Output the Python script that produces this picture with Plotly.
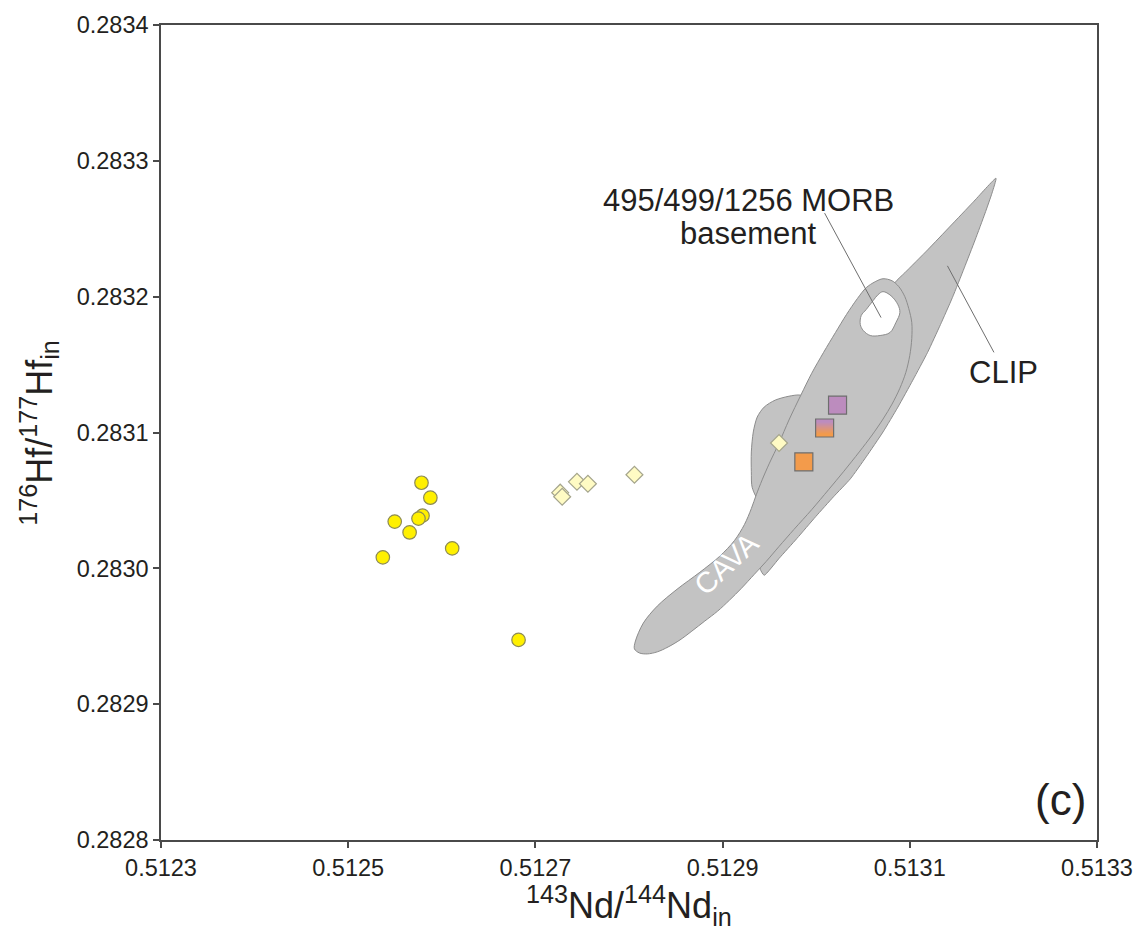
import plotly.graph_objects as go

# ---- Sample compositions: 143Nd/144Nd(in) vs 176Hf/177Hf(in) ----
circ_nd = [0.5125783, 0.5125878, 0.5125497, 0.5125794, 0.5125751, 0.5125656, 0.5126111, 0.5125370, 0.5126820]
circ_hf = [0.2830630, 0.2830520, 0.2830344, 0.2830388, 0.2830366, 0.2830264, 0.2830147, 0.2830081, 0.2829473]

dia_nd = [0.5127265, 0.5127286, 0.5127444, 0.5127561, 0.5128058, 0.5129603]
dia_hf = [0.2830557, 0.2830527, 0.2830637, 0.2830623, 0.2830689, 0.2830923]

purple_nd, purple_hf = [0.5130228], [0.2831201]
orange_nd, orange_hf = [0.5129868], [0.2830784]
mixed_nd, mixed_hf = [0.5130090], [0.2831033]

# ---- Reference fields (outlines) ----
clip_nd = [0.5131921, 0.5131878, 0.5131804, 0.5131698, 0.5131582, 0.5131455, 0.5131328, 0.5131190,
           0.5131032, 0.5130873, 0.5130714, 0.5130534, 0.5130365, 0.5130185, 0.5129995, 0.5129794,
           0.5129603, 0.5129444, 0.5129402, 0.5129392, 0.5130079, 0.5130841, 0.5130947, 0.5131190,
           0.5131434, 0.5131677, 0.5131921]
clip_hf = [0.2832872, 0.2832762, 0.2832615, 0.2832418, 0.2832212, 0.2831993, 0.2831795, 0.2831590,
           0.2831385, 0.2831187, 0.2831004, 0.2830821, 0.2830659, 0.2830527, 0.2830381, 0.2830220,
           0.2830073, 0.2829949, 0.2829993, 0.2830066, 0.2831077, 0.2832103, 0.2832176, 0.2832344,
           0.2832520, 0.2832696, 0.2832872]

wing_nd = [0.5129836, 0.5129709, 0.5129561, 0.5129444, 0.5129370, 0.5129328, 0.5129307, 0.5129307,
           0.5129317, 0.5129392, 0.5129656, 0.5129974, 0.5129836]
wing_hf = [0.2831275, 0.2831267, 0.2831238, 0.2831187, 0.2831114, 0.2831004, 0.2830857, 0.2830711,
           0.2830593, 0.2830505, 0.2830711, 0.2831223, 0.2831275]

cava_nd = [0.5128069, 0.5128153, 0.5128302, 0.5128513, 0.5128757, 0.5128968, 0.5129127, 0.5129233,
           0.5129307, 0.5129360, 0.5129423, 0.5129497, 0.5129603, 0.5129709, 0.5129836, 0.5129952,
           0.5130079, 0.5130206, 0.5130323, 0.5130439, 0.5130534, 0.5130630, 0.5130714, 0.5130810,
           0.5130884, 0.5130947, 0.5130989, 0.5131021, 0.5131021, 0.5131000, 0.5130958, 0.5130894,
           0.5130810, 0.5130714, 0.5130598, 0.5130460, 0.5130291, 0.5130132, 0.5129952, 0.5129762,
           0.5129603, 0.5129466, 0.5129339, 0.5129201, 0.5129074, 0.5128947, 0.5128810, 0.5128672,
           0.5128545, 0.5128418, 0.5128302, 0.5128196, 0.5128111, 0.5128058, 0.5128069]
cava_hf = [0.2829465, 0.2829597, 0.2829722, 0.2829846, 0.2829971, 0.2830088, 0.2830205, 0.2830322,
           0.2830440, 0.2830542, 0.2830652, 0.2830769, 0.2830923, 0.2831092, 0.2831275, 0.2831436,
           0.2831590, 0.2831736, 0.2831868, 0.2831985, 0.2832066, 0.2832110, 0.2832132, 0.2832117,
           0.2832073, 0.2832000, 0.2831912, 0.2831810, 0.2831692, 0.2831568, 0.2831443, 0.2831326,
           0.2831209, 0.2831099, 0.2830982, 0.2830857, 0.2830711, 0.2830579, 0.2830432, 0.2830286,
           0.2830161, 0.2830051, 0.2829956, 0.2829853, 0.2829766, 0.2829685, 0.2829612, 0.2829538,
           0.2829473, 0.2829421, 0.2829385, 0.2829370, 0.2829377, 0.2829407, 0.2829465]

morb_nd = [0.5130714, 0.5130799, 0.5130873, 0.5130894, 0.5130852, 0.5130788, 0.5130683, 0.5130577,
           0.5130503, 0.5130471, 0.5130481, 0.5130534, 0.5130608, 0.5130661, 0.5130714]
morb_hf = [0.2832037, 0.2832007, 0.2831941, 0.2831883, 0.2831810, 0.2831736, 0.2831714, 0.2831714,
           0.2831751, 0.2831795, 0.2831861, 0.2831905, 0.2831971, 0.2832015, 0.2832037]

# leader lines for the field labels
morb_leader_nd = [0.5130090, 0.5130693]
morb_leader_hf = [0.2832615, 0.2831846]
clip_leader_nd = [0.5131402, 0.5131899]
clip_leader_hf = [0.2832227, 0.2831590]

x_ticks = [0.5123, 0.5125, 0.5127, 0.5129, 0.5131, 0.5133]
y_ticks = [0.2828, 0.2829, 0.2830, 0.2831, 0.2832, 0.2833, 0.2834]

FONT = "Arial, Liberation Sans, sans-serif"
TEXT = "#231F20"
FIELD_FILL = "#C3C3C3"
FIELD_LINE = "#8C8C8C"

fig = go.Figure()


def field(xs, ys, fill, smooth):
    fig.add_trace(go.Scatter(
        x=xs, y=ys, mode="lines", fill="toself", fillcolor=fill,
        line=dict(color=FIELD_LINE, width=1, shape="spline", smoothing=smooth),
        hoverinfo="skip", showlegend=False))


field(clip_nd, clip_hf, FIELD_FILL, 0.5)
field(wing_nd, wing_hf, FIELD_FILL, 0.8)
field(cava_nd, cava_hf, FIELD_FILL, 0.9)
field(morb_nd, morb_hf, "white", 1.0)

for lx, ly in [(morb_leader_nd, morb_leader_hf), (clip_leader_nd, clip_leader_hf)]:
    fig.add_trace(go.Scatter(x=lx, y=ly, mode="lines",
                             line=dict(color="#6E6E6E", width=1),
                             hoverinfo="skip", showlegend=False))

fig.add_trace(go.Scatter(
    x=circ_nd, y=circ_hf, mode="markers", showlegend=False,
    marker=dict(symbol="circle", size=13.5, color="#FFF000",
                line=dict(color="#8C8A55", width=1.2))))

fig.add_trace(go.Scatter(
    x=dia_nd, y=dia_hf, mode="markers", showlegend=False,
    marker=dict(symbol="diamond", size=13, color="#FFFBC4",
                line=dict(color="#A5A58C", width=1.2))))

fig.add_trace(go.Scatter(
    x=purple_nd, y=purple_hf, mode="markers", showlegend=False,
    marker=dict(symbol="square", size=18, color="#BC8CBE",
                line=dict(color="#6E6E6E", width=1.2))))

fig.add_trace(go.Scatter(
    x=orange_nd, y=orange_hf, mode="markers", showlegend=False,
    marker=dict(symbol="square", size=18, color="#F39B4B",
                line=dict(color="#6E6E6E", width=1.2))))

# mixed sample: vertical purple-to-orange gradient square anchored on its data point
top_rgb = (188, 140, 190)
bot_rgb = (243, 155, 75)
n_strips = 18
half = 9
for i in range(n_strips):
    t = i / (n_strips - 1)
    t = min(1.0, max(0.0, (t - 0.15) / 0.7))
    col = tuple(round(top_rgb[k] + (bot_rgb[k] - top_rgb[k]) * t) for k in range(3))
    y_hi = half - i * (2 * half / n_strips)
    y_lo = y_hi - 2 * half / n_strips - 0.3
    fig.add_shape(type="rect", xref="x", yref="y",
                  xsizemode="pixel", ysizemode="pixel",
                  xanchor=mixed_nd[0], yanchor=mixed_hf[0],
                  x0=-half, x1=half, y0=max(y_lo, -half), y1=y_hi,
                  fillcolor="rgb(%d,%d,%d)" % col, line=dict(width=0), layer="above")
fig.add_shape(type="rect", xref="x", yref="y",
              xsizemode="pixel", ysizemode="pixel",
              xanchor=mixed_nd[0], yanchor=mixed_hf[0],
              x0=-half, x1=half, y0=-half, y1=half,
              fillcolor="rgba(0,0,0,0)", line=dict(color="#6E6E6E", width=1.2), layer="above")

ann = [
    dict(x=0.5129275, y=0.2832711, text="495/499/1256 MORB", font=dict(size=31)),
    dict(x=0.5129275, y=0.2832462, text="basement", font=dict(size=31)),
    dict(x=0.5132005, y=0.2831443, text="CLIP", font=dict(size=31)),
    dict(x=0.5129040, y=0.2830030, text="CAVA", textangle=-43,
         font=dict(size=29, color="white")),
]
for a in ann:
    f = dict(family=FONT, color=TEXT)
    f.update(a.pop("font"))
    fig.add_annotation(xref="x", yref="y", showarrow=False, font=f,
                       xanchor="center", yanchor="middle", **a)

fig.add_annotation(xref="paper", yref="paper", x=0.9605, y=0.05, text="(c)",
                   xanchor="center", yanchor="middle",
                   showarrow=False, font=dict(family=FONT, size=44, color=TEXT))

fig.add_annotation(xref="paper", yref="paper", x=0.5, y=-0.08,
                   xanchor="center", yanchor="middle",
                   text="<sup>143</sup>Nd/<sup>144</sup>Nd<sub>in</sub>",
                   showarrow=False, font=dict(family=FONT, size=36, color=TEXT))
fig.add_annotation(xref="paper", yref="paper", x=-0.13, y=0.5, xanchor="center",
                   yanchor="middle", textangle=-90,
                   text="<sup>176</sup>Hf/<sup>177</sup>Hf<sub>in</sub>",
                   showarrow=False, font=dict(family=FONT, size=36, color=TEXT))

axis_common = dict(showgrid=False, zeroline=False, showline=True, linecolor="#4A4A4A",
                   linewidth=1.5, mirror=True, ticks="outside", ticklen=6, tickwidth=1.5,
                   tickcolor="#4A4A4A", tickfont=dict(family=FONT, size=23.5, color=TEXT))

fig.update_layout(
    width=1145, height=947,
    margin=dict(l=161, r=39, t=21, b=107),
    paper_bgcolor="white", plot_bgcolor="white",
    xaxis=dict(range=[0.5123, 0.5133], tickvals=x_ticks,
               ticktext=["%.4f" % v for v in x_ticks], **axis_common),
    yaxis=dict(range=[0.2828, 0.2834], tickvals=y_ticks,
               ticktext=["%.4f" % v for v in y_ticks], **axis_common),
)

fig.write_html("out.html")
